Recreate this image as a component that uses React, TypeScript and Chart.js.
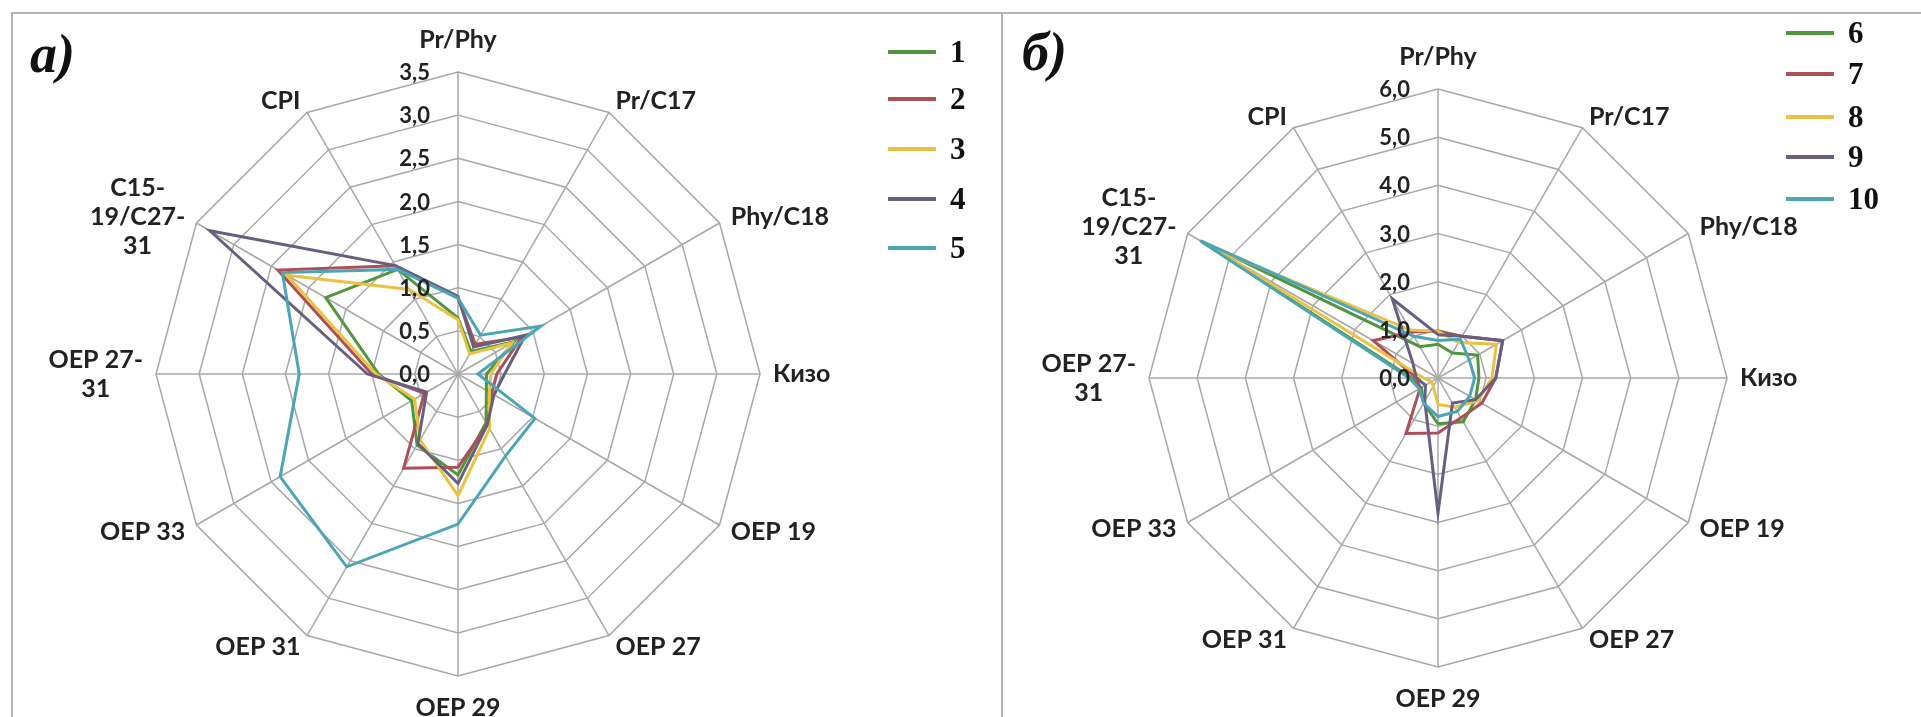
import React, { useEffect, useRef } from "react";
import { Chart, registerables } from "chart.js";
Chart.register(...registerables);

const AXIS_LABELS: string[][] = [
  ["Pr/Phy"], ["Pr/C17"], ["Phy/C18"], ["Кизо"], ["OEP 19"], ["OEP 27"],
  ["OEP 29"], ["OEP 31"], ["OEP 33"], ["OEP 27-", "31"], ["C15-", "19/C27-", "31"], ["CPI"],
];

// Panel a)
const LEFT_NAMES = ["1", "2", "3", "4", "5"];
const S1 = [0.65, 0.30, 0.75, 0.33, 0.38, 0.65, 1.17, 0.95, 0.62, 0.92, 1.77, 1.40];
const S2 = [0.88, 0.40, 0.85, 0.45, 0.45, 0.68, 1.08, 1.26, 0.45, 1.00, 2.41, 1.45];
const S3 = [0.63, 0.27, 0.72, 0.38, 0.42, 0.73, 1.41, 0.88, 0.58, 0.95, 2.29, 1.13];
const S4 = [0.90, 0.36, 0.90, 0.54, 0.48, 0.68, 1.27, 0.93, 0.42, 1.05, 3.32, 1.45];
const S5 = [0.88, 0.52, 1.11, 0.23, 1.03, 1.10, 1.74, 2.58, 2.38, 1.84, 2.35, 1.40];
const LEFT_TICK_VALUES = [0, 0.5, 1, 1.5, 2, 2.5, 3, 3.5];
const LEFT_TICK_LABELS = ["0,0", "0,5", "1,0", "1,5", "2,0", "2,5", "3,0", "3,5"];

// Panel б)
const RIGHT_NAMES = ["6", "7", "8", "9", "10"];
const S6 = [0.70, 0.60, 0.95, 0.85, 0.90, 1.05, 0.95, 0.60, 0.40, 0.55, 5.65, 0.75];
const S7 = [0.97, 1.00, 1.55, 1.20, 1.05, 0.95, 1.14, 1.33, 0.43, 0.45, 1.55, 1.10];
const S8 = [0.97, 0.85, 1.40, 1.12, 0.95, 0.70, 0.55, 0.20, 0.15, 0.30, 5.40, 1.15];
const S9 = [0.90, 1.00, 1.55, 1.20, 0.90, 0.60, 2.80, 0.55, 0.30, 0.45, 0.60, 1.90];
const S10 = [0.78, 0.93, 0.75, 0.76, 0.76, 0.80, 0.80, 0.60, 0.45, 0.60, 5.70, 1.00];
const RIGHT_TICK_VALUES = [0, 1, 2, 3, 4, 5, 6];
const RIGHT_TICK_LABELS = ["0,0", "1,0", "2,0", "3,0", "4,0", "5,0", "6,0"];

const COLORS = ["#4f963c", "#ad4f58", "#e9c244", "#685e80", "#4ba5b6"];

type PanelCfg = {
  series: number[][];
  names: string[];
  max: number;
  step: number;
  tickValues: number[];
  tickLabels: string[];
  cx: number;
  cy: number;
  radius: number;
  width: number;
};

function makeLabelPlugin(cfg: PanelCfg) {
  return {
    id: "customLabels",
    afterDatasetsDraw(chart: any) {
      const s = chart.scales.r;
      const ctx = chart.ctx as CanvasRenderingContext2D;
      ctx.save();
      ctx.fillStyle = "#222222";
      ctx.font = "bold 22px Lato";
      ctx.textAlign = "right";
      ctx.textBaseline = "middle";
      cfg.tickValues.forEach((v, i) => {
        const y = s.yCenter - s.getDistanceFromCenterForValue(v);
        ctx.fillText(cfg.tickLabels[i], s.xCenter - 28, y + 1);
      });
      ctx.font = "bold 25px Lato";
      const n = AXIS_LABELS.length;
      AXIS_LABELS.forEach((lines, i) => {
        const p = s.getPointPosition(i, s.drawingArea + 13);
        const angle = (i * 360) / n;
        const lh = 29;
        const h = lines.length * lh;
        const w = Math.max(...lines.map((l) => ctx.measureText(l).width));
        let tx = p.x;
        if (angle > 0 && angle < 180) tx = p.x + w / 2;
        else if (angle > 180) tx = p.x - w / 2;
        let ty = p.y;
        if (angle === 0) ty = p.y - 19;
        else if (angle === 180) ty = p.y + 19;
        ctx.textAlign = "center";
        ctx.textBaseline = "middle";
        lines.forEach((l, k) => ctx.fillText(l, tx, ty - h / 2 + lh / 2 + k * lh));
      });
      ctx.restore();
    },
  };
}

function RadarPanel({ cfg, left }: { cfg: PanelCfg; left: number }) {
  const ref = useRef<HTMLCanvasElement | null>(null);
  useEffect(() => {
    if (!ref.current) return;
    const chart = new Chart(ref.current, {
      type: "radar",
      data: {
        labels: AXIS_LABELS,
        datasets: cfg.series.map((d, i) => ({
          label: cfg.names[i],
          data: d,
          borderColor: COLORS[i],
          backgroundColor: COLORS[i],
          borderWidth: 3,
          fill: false,
          pointRadius: 0,
          tension: 0,
          order: cfg.series.length - i,
        })),
      },
      options: {
        responsive: false,
        animation: false,
        plugins: { legend: { display: false }, tooltip: { enabled: false } },
        scales: {
          r: {
            min: 0,
            max: cfg.max,
            ticks: { stepSize: cfg.step, display: false },
            grid: { color: "#a8a8a8", lineWidth: 1.5, circular: false },
            angleLines: { color: "#a8a8a8", lineWidth: 1.5 },
            pointLabels: { display: false },
            afterFit: (sc: any) => {
              sc.xCenter = cfg.cx;
              sc.yCenter = cfg.cy;
              sc.drawingArea = cfg.radius;
            },
          } as any,
        },
      },
      plugins: [makeLabelPlugin(cfg)],
    });
    return () => chart.destroy();
  }, []);
  return (
    <canvas
      ref={ref}
      width={cfg.width}
      height={717}
      style={{ position: "absolute", left, top: 0, width: cfg.width, height: 717 }}
    />
  );
}

function Legend({ names, x, ys }: { names: string[]; x: number; ys: number[] }) {
  return (
    <>
      {names.map((n, i) => (
        <React.Fragment key={n}>
          <div
            style={{
              position: "absolute",
              left: x,
              top: ys[i] - 2,
              width: 48,
              height: 4,
              background: COLORS[i],
            }}
          />
          <div
            style={{
              position: "absolute",
              left: x + 62,
              top: ys[i] - 18,
              height: 34,
              lineHeight: "34px",
              font: "bold 31px 'Liberation Serif'",
              color: "#111",
            }}
          >
            {n}
          </div>
        </React.Fragment>
      ))}
    </>
  );
}

export default function App() {
  const leftCfg: PanelCfg = {
    series: [S1, S2, S3, S4, S5],
    names: LEFT_NAMES,
    max: 3.5,
    step: 0.5,
    tickValues: LEFT_TICK_VALUES,
    tickLabels: LEFT_TICK_LABELS,
    cx: 458,
    cy: 374,
    radius: 302,
    width: 1002,
  };
  const rightCfg: PanelCfg = {
    series: [S6, S7, S8, S9, S10],
    names: RIGHT_NAMES,
    max: 6,
    step: 1,
    tickValues: RIGHT_TICK_VALUES,
    tickLabels: RIGHT_TICK_LABELS,
    cx: 1438 - 1003,
    cy: 378,
    radius: 289,
    width: 918,
  };
  const titleStyle: React.CSSProperties = {
    position: "absolute",
    font: "italic bold 54px 'Liberation Serif'",
    lineHeight: "56px",
    color: "#111",
  };
  return (
    <div style={{ position: "absolute", left: 0, top: 0, width: 1921, height: 717, background: "#fff", overflow: "hidden" }}>
      <RadarPanel cfg={leftCfg} left={0} />
      <RadarPanel cfg={rightCfg} left={1003} />
      <div style={{ position: "absolute", left: 11, top: 12, width: 1910, height: 2, background: "#b4b4b4" }} />
      <div style={{ position: "absolute", left: 11, top: 12, width: 2, height: 705, background: "#b4b4b4" }} />
      <div style={{ position: "absolute", left: 1001, top: 12, width: 2, height: 705, background: "#b4b4b4" }} />
      <div style={{ ...titleStyle, left: 30, top: 26 }}>a)</div>
      <div style={{ ...titleStyle, left: 1022, top: 24 }}>б)</div>
      <Legend names={LEFT_NAMES} x={888} ys={[52, 99, 149, 199, 248]} />
      <Legend names={RIGHT_NAMES} x={1786} ys={[33, 74, 117, 157, 199]} />
    </div>
  );
}
